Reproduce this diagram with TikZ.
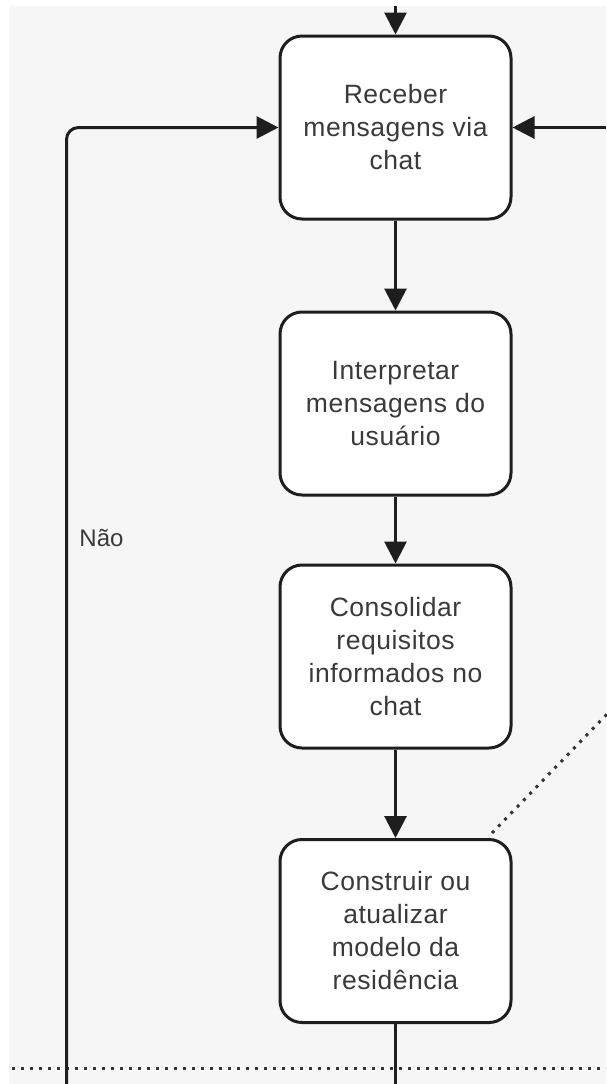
\documentclass[tikz,border=0pt]{standalone}
\usepackage{fontspec}
\setmainfont{Liberation Sans}
\newfontfamily\boxfont[LetterSpace=2]{Liberation Sans}
\usetikzlibrary{arrows.meta}
\definecolor{bg}{HTML}{F6F6F6}
\definecolor{ink}{HTML}{1E1E1E}
\definecolor{txt}{HTML}{3A3A3A}
\tikzset{
  stepbox/.style={draw=ink, fill=white, line width=3pt, rounded corners=22pt,
    minimum width=231pt, minimum height=183pt, inner sep=0pt,
    align=center, text=txt, font=\boxfont\fontsize{26.5}{33}\selectfont},
  flow/.style={draw=ink, line width=3pt, -{Triangle[length=22pt,width=22pt]}},
  plain/.style={draw=ink, line width=3pt},
  dotline/.style={draw=ink!90, line width=3pt, dash pattern=on 3pt off 6pt},
  lbl/.style={text=txt, font=\fontsize{24}{33}\selectfont, inner sep=0pt}
}
\begin{document}
\begin{tikzpicture}[x=1pt,y=-1pt]
\useasboundingbox (0,0) rectangle (606,1084);
\fill[white] (0,0) rectangle (606,1084);
\fill[bg] (9,6) rectangle (606,1084);

\node[stepbox] (b1) at (395.5,127.5) {Receber\\mensagens via\\chat};
\node[stepbox] (b2) at (395.5,403.5) {Interpretar\\mensagens do\\usuário};
\node[stepbox] (b3) at (395.5,656.5) {Consolidar\\requisitos\\informados no\\chat};
\node[stepbox] (b4) at (395.5,931) {Construir ou\\atualizar\\modelo da\\residência};

\coordinate (topin) at (395.5,6);
\coordinate (rightin) at (606,127.5);
\coordinate (loopbot) at (66.5,1084);
\coordinate (botout) at (395.5,1084);
\coordinate (hl) at (12,1068);
\coordinate (hr) at (606,1068);
\coordinate (dA) at (492,833);
\coordinate (dB) at (610,711);

\node[lbl] (nao) at (101.5,538) {Não};

\draw[dotline] (hl) -- (hr);
\draw[dotline] (dA) -- (dB);

\draw[flow] (topin) -- (b1.north);
\draw[flow] (rightin) -- (b1.east);
\draw[flow, rounded corners=12pt] (loopbot) |- (b1.west);
\draw[flow] (b1.south) -- (b2.north);
\draw[flow] (b2.south) -- (b3.north);
\draw[flow] (b3.south) -- (b4.north);
\draw[plain] (b4.south) -- (botout);
\end{tikzpicture}
\end{document}
